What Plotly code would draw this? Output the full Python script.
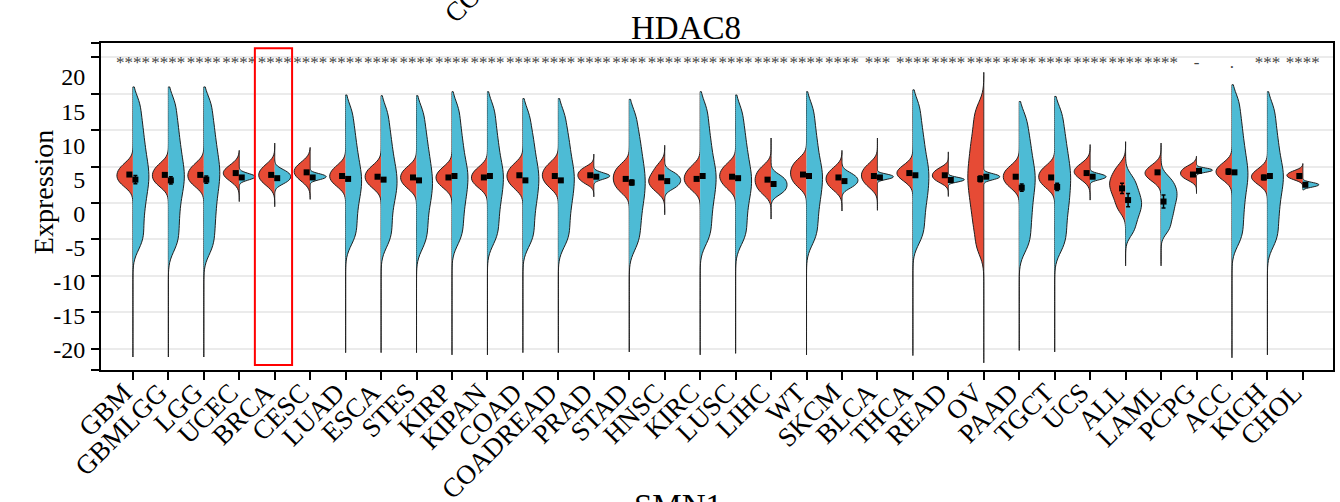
import plotly.graph_objects as go

# ---------------- data ----------------
categories = ["GBM", "GBMLGG", "LGG", "UCEC", "BRCA", "CESC", "LUAD", "ESCA", "STES",
              "KIRP", "KIPAN", "COAD", "COADREAD", "PRAD", "STAD", "HNSC", "KIRC", "LUSC",
              "LIHC", "WT", "SKCM", "BLCA", "THCA", "READ", "OV", "PAAD", "TGCT", "UCS",
              "ALL", "LAML", "PCPG", "ACC", "KICH", "CHOL"]

sig_labels = ["****", "****", "****", "****", "****", "****", "****", "****", "****",
              "****", "****", "****", "****", "****", "****", "****", "****", "****",
              "****", "****", "****", "***", "****", "****", "****", "****", "****", "****",
              "****", "****", "-", ".", "***", "****"]

# overall value range of each cancer type (thin violin tails)
range_lo = [-21.1, -21.1, -21.1, 0.2, -0.5, 0.5, -20.5, -20.5, -20.5, -20.8, -20.8, -20.5,
            -20.5, 0.85, -20.4, -1.6, -20.8, -20.6, -2.2, -20.8, -1.1, -1.0, -20.9, 0.9,
            -21.9, -20.2, -20.4, 0.4, -8.6, -8.6, 1.3, -21.2, -20.8, 1.8]
range_hi = [15.9, 15.9, 15.9, 7.2, 8.2, 7.6, 14.8, 14.7, 14.7, 15.25, 15.25, 14.3, 14.3,
            6.7, 14.2, 7.9, 15.25, 14.8, 8.9, 15.25, 7.2, 8.9, 15.5, 7.0, 17.9, 13.9, 14.6,
            8.0, 8.4, 8.2, 6.4, 16.2, 15.25, 5.4]

# representative expression values (left / red half)
red_values = [
    [2.5, 3.2, 3.8, 4.45, 5.2], [2.5, 3.2, 3.8, 4.45, 5.2], [2.5, 3.2, 3.8, 4.45, 5.2],
    [3.25, 3.7, 4.1, 4.5, 5.0], [2.65, 3.3, 3.85, 4.4, 5.1], [3.2, 3.8, 4.3, 4.8, 5.4],
    [2.5, 3.15, 3.7, 4.25, 4.95], [2.3, 3.0, 3.6, 4.2, 4.9], [2.2, 2.9, 3.5, 4.1, 4.8],
    [2.3, 2.95, 3.5, 4.05, 4.75], [2.3, 2.95, 3.5, 4.05, 4.75], [2.2, 3.05, 3.7, 4.35, 5.2],
    [2.3, 3.15, 3.8, 4.45, 5.3], [2.8, 3.35, 3.8, 4.25, 4.8], [1.75, 2.65, 3.4, 4.15, 5.05],
    [1.8, 2.6, 3.2, 3.9, 5.0], [2.0, 2.8, 3.4, 4.05, 4.9], [2.2, 3.05, 3.7, 4.35, 5.2],
    [1.5, 2.4, 3.15, 3.9, 4.8], [2.45, 3.35, 4.1, 4.85, 5.75], [2.0, 2.7, 3.3, 3.9, 4.6],
    [2.4, 3.15, 3.8, 4.4, 5.2], [3.25, 3.7, 4.1, 4.5, 5.0], [2.95, 3.4, 3.8, 4.2, 4.7],
    [12.8, 10.8, 9.0, 7.5, 6.1, 4.8, 3.6, 2.4, 1.1, -0.3, -1.9, -3.7, -6.0],
    [2.3, 3.0, 3.6, 4.2, 4.9], [2.3, 3.0, 3.6, 4.2, 4.9], [3.45, 3.9, 4.3, 4.7, 5.2],
    [-0.8, 0.5, 1.5, 2.3, 3.0, 3.8, 4.9], [3.25, 3.7, 4.1, 4.5, 5.0],
    [3.3, 3.7, 4.1, 4.5, 4.95], [3.4, 3.85, 4.3, 4.75, 5.3], [2.8, 3.2, 3.6, 4.0, 4.5],
    [3.3, 3.55, 3.8, 4.05, 4.35]]
red_bw = [0.8, 0.8, 0.8, 0.8, 0.8, 0.8, 0.8, 0.8, 0.8, 0.8, 0.8, 0.8, 0.8, 0.5, 0.8, 0.8,
          0.8, 0.8, 0.8, 0.8, 0.8, 0.8, 0.8, 0.5, 1.4, 0.8, 0.8, 0.8, 0.9, 0.8, 0.5, 0.8,
          0.8, 0.35]

# representative expression values (right / blue half)
blue_values = [
    [13.6, 11.4, 9.6, 8.0, 6.6, 5.3, 4.2, 3.1, 2.0, 0.7, -0.7, -2.3, -4.0, -5.6],
    [13.6, 11.4, 9.6, 8.0, 6.6, 5.3, 4.2, 3.1, 2.0, 0.7, -0.8, -2.4, -4.1, -5.8],
    [13.6, 11.4, 9.6, 8.0, 6.6, 5.3, 4.2, 3.0, 1.8, 0.4, -1.1, -2.7, -4.4, -6.2],
    [3.2, 3.45, 3.6, 3.75, 4.0],
    [2.8, 3.2, 3.6, 4.0, 4.4],
    [3.25, 3.43, 3.6, 3.77, 3.95],
    [12.5, 10.4, 8.7, 7.2, 5.9, 4.7, 3.7, 2.7, 1.7, 0.6, -0.7, -2.1, -3.6, -5.0],
    [12.4, 10.3, 8.6, 7.1, 5.8, 4.6, 3.6, 2.6, 1.6, 0.5, -0.8, -2.3, -3.8, -5.3],
    [12.4, 10.3, 8.6, 7.1, 5.8, 4.6, 3.5, 2.5, 1.4, 0.3, -1.0, -2.5, -4.0, -5.6],
    [12.9, 10.8, 9.0, 7.5, 6.1, 4.9, 3.9, 2.9, 1.8, 0.7, -0.6, -2.0, -3.5, -5.0],
    [12.9, 10.8, 9.0, 7.5, 6.1, 4.9, 3.9, 2.9, 1.8, 0.7, -0.6, -2.0, -3.5, -5.0],
    [12.0, 9.9, 8.3, 6.9, 5.6, 4.5, 3.5, 2.5, 1.4, 0.3, -1.0, -2.4, -3.9, -5.3],
    [12.0, 9.9, 8.3, 6.9, 5.6, 4.5, 3.5, 2.5, 1.4, 0.3, -1.0, -2.4, -3.9, -5.3],
    [3.3, 3.55, 3.7, 3.85, 4.1],
    [11.9, 9.8, 8.2, 6.8, 5.5, 4.4, 3.3, 2.3, 1.2, 0.1, -1.2, -2.6, -4.1, -5.7],
    [2.1, 2.65, 3.1, 3.55, 4.1],
    [12.9, 10.8, 9.0, 7.5, 6.1, 4.9, 3.9, 2.9, 1.8, 0.7, -0.6, -2.0, -3.5, -5.0],
    [12.5, 10.4, 8.7, 7.2, 5.9, 4.7, 3.7, 2.7, 1.7, 0.6, -0.7, -2.1, -3.6, -5.0],
    [1.35, 1.95, 2.5, 3.05, 3.65],
    [12.9, 10.8, 9.0, 7.5, 6.1, 4.9, 3.9, 2.9, 1.8, 0.7, -0.6, -2.0, -3.5, -5.0],
    [2.2, 2.7, 3.1, 3.5, 4.0],
    [3.28, 3.45, 3.6, 3.75, 3.92],
    [13.2, 11.0, 9.2, 7.7, 6.3, 5.1, 4.1, 3.0, 1.9, 0.8, -0.5, -1.9, -3.4, -4.9],
    [2.92, 3.07, 3.2, 3.33, 3.48],
    [3.25, 3.43, 3.6, 3.77, 3.95],
    [11.6, 9.6, 8.0, 6.6, 5.3, 4.2, 3.2, 2.1, 1.0, -0.3, -1.6, -3.0, -4.5, -6.0],
    [12.3, 10.2, 8.5, 7.0, 5.7, 4.5, 3.4, 2.3, 1.1, -0.1, -1.4, -2.9, -4.4, -6.0],
    [3.25, 3.43, 3.6, 3.77, 3.95],
    [-3.8, -2.3, -1.1, -0.2, 0.7, 1.8, 3.2],
    [-3.5, -2.0, -0.8, 0.3, 1.2, 2.1, 3.2],
    [4.25, 4.38, 4.5, 4.62, 4.75],
    [13.9, 11.7, 9.9, 8.3, 6.9, 5.6, 4.5, 3.4, 2.3, 1.0, -0.4, -1.9, -3.5, -5.1],
    [12.9, 10.8, 9.0, 7.5, 6.1, 4.9, 3.9, 2.9, 1.8, 0.6, -0.8, -2.2, -3.8, -5.3],
    [2.22, 2.37, 2.5, 2.63, 2.78]]
blue_bw = [1.4, 1.4, 1.4, 0.3, 0.5, 0.25, 1.4, 1.4, 1.4, 1.4, 1.4, 1.4, 1.4, 0.3, 1.4, 0.5,
           1.4, 1.4, 0.6, 1.4, 0.5, 0.2, 1.4, 0.2, 0.25, 1.4, 1.4, 0.25, 1.0, 0.9, 0.18, 1.4,
           1.4, 0.2]

red_mean = [3.9, 3.85, 3.85, 4.1, 3.85, 4.2, 3.7, 3.6, 3.5, 3.5, 3.5, 3.8, 3.7, 3.8, 3.3,
            3.5, 3.3, 3.6, 3.2, 3.9, 3.5, 3.7, 4.1, 3.8, 3.3, 3.6, 3.5, 4.1, 2.0, 4.2, 3.9,
            4.3, 3.5, 3.7]
red_se = [0.1, 0.1, 0.1, 0.1, 0.05, 0.1, 0.05, 0.05, 0.05, 0.05, 0.05, 0.1, 0.1, 0.05, 0.1,
          0.05, 0.05, 0.05, 0.1, 0.2, 0.05, 0.1, 0.05, 0.1, 0.4, 0.1, 0.1, 0.15, 0.7, 0.15,
          0.1, 0.35, 0.3, 0.1]
blue_mean = [3.2, 3.1, 3.2, 3.5, 3.4, 3.5, 3.3, 3.2, 3.1, 3.7, 3.7, 3.1, 3.1, 3.6, 2.8, 3.0,
             3.7, 3.4, 2.6, 3.7, 3.0, 3.5, 3.8, 3.15, 3.6, 2.1, 2.2, 3.6, 0.4, 0.2, 4.4, 4.2,
             3.7, 2.5]
blue_se = [0.55, 0.5, 0.5, 0.1, 0.05, 0.05, 0.1, 0.1, 0.1, 0.1, 0.1, 0.1, 0.1, 0.05, 0.35,
           0.05, 0.1, 0.1, 0.1, 0.1, 0.05, 0.05, 0.1, 0.05, 0.05, 0.5, 0.5, 0.05, 0.9, 0.9,
           0.05, 0.1, 0.2, 0.05]

y_tick_values = [20, 15, 10, 5, 0, -5, -10, -15, -20]
y_tick_labels = ["20", "15", "10", "5", "0", "-5", "-10", "-15", "-20"]

highlight = "BRCA"
title_text = "HDAC8"
upper_panel_label = "COADREAD"
lower_panel_title = "SMN1"

# ---------------- style ----------------
RED = "#E64B35"
BLUE = "#4DBBD5"
OUTLINE = "#1F1F1F"
FONT = "Liberation Serif, Times New Roman, serif"
Y_RANGE = [-22.88, 21.92]
N = len(categories)
idx = list(range(N))

fig = go.Figure()

for i in idx:
    fig.add_trace(go.Violin(
        y=red_values[i], x0=i, side="negative", width=0.9, bandwidth=red_bw[i],
        spanmode="manual", span=[range_lo[i], range_hi[i]], scalemode="width",
        fillcolor=RED, opacity=1, line=dict(color=OUTLINE, width=1), points=False,
        box_visible=False, meanline_visible=False, hoverinfo="skip", showlegend=False))
    fig.add_trace(go.Violin(
        y=blue_values[i], x0=i, side="positive", width=0.9, bandwidth=blue_bw[i],
        spanmode="manual", span=[range_lo[i], range_hi[i]], scalemode="width",
        fillcolor=BLUE, opacity=1, line=dict(color=OUTLINE, width=1), points=False,
        box_visible=False, meanline_visible=False, hoverinfo="skip", showlegend=False))

fig.add_trace(go.Scatter(
    x=[i - 0.1 for i in idx], y=red_mean, mode="markers",
    marker=dict(symbol="square", size=6, color="black"),
    error_y=dict(type="data", array=red_se, color="black", thickness=1.5, width=2),
    hoverinfo="skip", showlegend=False))
fig.add_trace(go.Scatter(
    x=[i + 0.07 for i in idx], y=blue_mean, mode="markers",
    marker=dict(symbol="square", size=6, color="black"),
    error_y=dict(type="data", array=blue_se, color="black", thickness=1.5, width=2),
    hoverinfo="skip", showlegend=False))

fig.add_trace(go.Scatter(
    x=idx, y=[19.1] * N, mode="text", text=sig_labels, textposition="middle center",
    textfont=dict(family=FONT, size=17, color="#444444"),
    hoverinfo="skip", showlegend=False))

# label-only axis
fig.add_trace(go.Scatter(x=[None], y=[None], yaxis="y2", showlegend=False, hoverinfo="skip"))

hi = categories.index(highlight)
fig.add_shape(type="rect", xref="x", yref="y", x0=hi - 0.56, x1=hi + 0.49,
              y0=-22.2, y1=21.2, line=dict(color="#FF0000", width=2),
              fillcolor="rgba(0,0,0,0)", layer="above")

fig.add_annotation(text=title_text, xref="paper", yref="paper", x=0.4748, y=1.046,
                   xanchor="center", yanchor="middle", showarrow=False,
                   font=dict(family=FONT, size=33, color="black"))
fig.add_annotation(text="Expression", xref="paper", yref="paper", x=-0.047, y=0.544,
                   xanchor="center", yanchor="middle", textangle=-90, showarrow=False,
                   font=dict(family=FONT, size=28, color="black"))
fig.add_annotation(text=upper_panel_label, xref="paper", yref="paper", x=0.3255, y=1.24,
                   xanchor="center", yanchor="middle", textangle=-45, showarrow=False,
                   font=dict(family=FONT, size=27, color="black"))
fig.add_annotation(text=lower_panel_title, xref="paper", yref="paper", x=0.468, y=-0.417,
                   xanchor="center", yanchor="middle", showarrow=False,
                   font=dict(family=FONT, size=33, color="black"))

fig.update_layout(
    width=1340, height=502,
    margin=dict(l=101, r=7, t=43, b=132, autoexpand=False),
    paper_bgcolor="white", plot_bgcolor="white",
    violinmode="overlay", violingap=0, violingroupgap=0,
    showlegend=False,
    xaxis=dict(range=[-0.9, 33.85], tickmode="array", tickvals=idx, ticktext=categories,
               tickangle=-45, tickfont=dict(family=FONT, size=27, color="black"),
               ticklabelstandoff=-14, ticklabelshift=-9,
               ticks="outside", ticklen=8, tickwidth=2, tickcolor="black",
               showline=True, linewidth=2, linecolor="black", mirror=True,
               showgrid=False, zeroline=False, automargin=False),
    yaxis=dict(range=Y_RANGE, tickmode="array", tickvals=y_tick_values + Y_RANGE,
               showticklabels=False, ticks="outside", ticklen=8, tickwidth=2,
               tickcolor="black", showline=True, linewidth=2, linecolor="black",
               mirror=True, showgrid=True, gridcolor="#EBEBEB", gridwidth=1.5,
               zeroline=False, automargin=False),
    yaxis2=dict(overlaying="y", side="left", range=[-22.93, 24.98], tickmode="array",
                tickvals=y_tick_values, ticktext=y_tick_labels,
                tickfont=dict(family=FONT, size=24, color="black"),
                ticks="outside", ticklen=10, tickcolor="rgba(0,0,0,0)",
                showline=False, showgrid=False, zeroline=False, automargin=False),
)

fig.write_html("out.html")
